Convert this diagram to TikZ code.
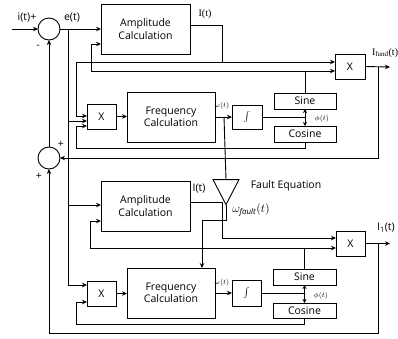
\documentclass[tikz,border=0pt]{standalone}
\usepackage{fontspec}
\setmainfont{Open Sans}
\newfontfamily\serifA{Liberation Serif}
\usetikzlibrary{arrows.meta,shapes.geometric}
\begin{document}
\begin{tikzpicture}[x=1pt,y=-1pt,
  every node/.style={inner sep=0pt,outer sep=0pt},
  blk/.style={draw,line width=0.9pt,rectangle,font=\fontsize{10.5}{12.5}\selectfont,align=center},
  sumc/.style={draw,line width=0.9pt,circle,minimum size=22pt},
  wire/.style={line width=0.9pt},
  arr/.style={line width=0.9pt,-{Stealth[length=5pt,width=4.5pt]}},
  darr/.style={line width=0.9pt,{Stealth[length=4pt,width=4pt]}-{Stealth[length=4pt,width=4pt]}},
  lbl/.style={font=\fontsize{10.5}{12}\selectfont},
  tiny/.style={font=\fontsize{7}{8}\selectfont}
]
\useasboundingbox (0,0) rectangle (398,338);
\fill[white] (0,0) rectangle (398,338);

% ---------- top section ----------
\node[sumc] (sumA) at (49,29) {};
\node[sumc] (sumB) at (49,158) {};
\node[blk,minimum width=89pt,minimum height=50pt] (ampA) at (145.5,29) {Amplitude\\Calculation};
\node[blk,minimum width=29pt,minimum height=25pt] (xA) at (101.5,116.5) {X};
\node[blk,minimum width=88pt,minimum height=50pt] (freqA) at (171,117) {Frequency\\Calculation};
\node[blk,minimum width=30pt,minimum height=24pt] (intA) at (247,117) {$\int$};
\node[blk,minimum width=62pt,minimum height=16pt] (sinA) at (305,101) {Sine};
\node[blk,minimum width=62pt,minimum height=16pt] (cosA) at (305,134) {Cosine};
\node[blk,minimum width=30pt,minimum height=25pt] (mulA) at (350,66.5) {X};

\node[draw,line width=0.9pt,isosceles triangle,shape border rotate=-90,
      isosceles triangle stretches,minimum width=26pt,minimum height=25pt] (tri) at (226,187.5) {};

% ---------- bottom section ----------
\node[blk,minimum width=89pt,minimum height=50pt] (ampB) at (145.5,206) {Amplitude\\Calculation};
\node[blk,minimum width=29pt,minimum height=25pt] (xB) at (101.5,293.5) {X};
\node[blk,minimum width=88pt,minimum height=50pt] (freqB) at (171,293) {Frequency\\Calculation};
\node[blk,minimum width=29pt,minimum height=26pt] (intB) at (246.5,293) {$\int$};
\node[blk,minimum width=63pt,minimum height=16pt] (sinB) at (304.5,277) {Sine};
\node[blk,minimum width=63pt,minimum height=15pt] (cosB) at (304.5,310.5) {Cosine};
\node[blk,minimum width=29pt,minimum height=25pt] (mulB) at (350.5,243.5) {X};

% coordinates
\coordinate (in) at (12,29);
\coordinate (eA) at (68,29);
\coordinate (eB) at (68,285);
\coordinate (fA) at (91,71);
\coordinate (gA) at (76,62);
\coordinate (iA) at (222,25);
\coordinate (cA) at (76,148);
\coordinate (wA) at (224,117);
\coordinate (oA) at (390,67);
\coordinate (rA) at (378,67);
\coordinate (fB) at (90,248);
\coordinate (iB) at (222,202);
\coordinate (cB) at (76,324);
\coordinate (kB) at (202,220);
\coordinate (oB) at (390,243.5);
\coordinate (rB) at (378,243.5);
\coordinate (bot) at (49,333);

% ---------- top wiring ----------
\draw[arr] (in) -- (sumA.west);
\draw[arr] (sumA.east) -- (ampA.west |- sumA.east);
\draw[wire] (eA) -- (eB);
\draw[arr] (eB) -- (xB.west |- eB);
\draw[arr] (eA |- 0,121) -- (xA.west |- 0,121);
\draw[arr] (eA |- 0,205) -- (ampB.west |- 0,205);
\draw[arr] (fA) |- (ampA.west |- 0,44);
\draw[wire] (iA -| ampA.east) -- (iA) -- (iA |- gA);
\draw[arr] (gA) -- (mulA.west |- gA);
\draw[arr] (gA) |- (xA.west |- 0,116);
\draw[wire] (sinA.north) -- (sinA.north |- fA);
\draw[arr] (fA) -- (mulA.west |- fA);
\draw[arr] (xA.east) -- (freqA.west |- xA.east);
\draw[arr] (freqA.east |- intA.west) -- (intA.west);
\draw[wire] (intA.east) -- (sinA.south |- intA.east);
\draw[darr] (sinA.south) -- (cosA.north);
\draw[wire] (cosA.south) -- (cosA.south |- cA) -- (cA);
\draw[arr] (cA) |- (xA.west |- 0,126);
\draw[wire] (wA) -- (tri.north);
\draw[arr] (mulA.east) -- (oA);
\draw[arr] (rA) |- (sumB.east);
\draw[arr] (sumB.north) -- (sumA.south);

% ---------- bottom wiring ----------
\draw[wire] (tri.apex) -- (tri.apex |- kB) -- (kB);
\draw[arr] (kB) -- (kB |- freqB.north);
\draw[wire] (iB -| ampB.east) -- (iB);
\draw[arr] (iB) |- (mulB.west |- 0,238);
\draw[wire] (sinB.north) -- (sinB.north |- fB);
\draw[arr] (fB) -- (mulB.west |- fB);
\draw[arr] (fB) |- (ampB.west |- 0,221);
\draw[arr] (xB.east) -- (freqB.west |- xB.east);
\draw[arr] (freqB.east |- intB.west) -- (intB.west);
\draw[wire] (intB.east) -- (sinB.south |- intB.east);
\draw[darr] (sinB.south) -- (cosB.north);
\draw[wire] (cosB.south) -- (cosB.south |- cB) -- (cB);
\draw[arr] (cB) |- (xB.west |- 0,302);
\draw[arr] (mulB.east) -- (oB);
\draw[wire] (rB) |- (bot);
\draw[arr] (bot) -- (sumB.south);

% ---------- labels ----------
\node[lbl] at (27,17) {i(t)+};
\node[lbl] at (38,47) {-};
\node[lbl] at (72,18) {e(t)};
\node[font=\serifA\fontsize{10}{12}\selectfont] at (205,14) {I(t)};
\node[font=\serifA\fontsize{10}{12}\selectfont,anchor=west] at (372,53) {I\textsubscript{fund}(t)};
\node[tiny] at (222,106) {$\omega(t)$};
\node[tiny] at (322,119) {$\phi(t)$};
\node[lbl] at (61,144) {+};
\node[lbl] at (39,176) {+};
\node[lbl] at (286,186) {Fault Equation};
\node[font=\fontsize{12}{14}\selectfont] at (251,210) {$\omega_{\mathit{fault}}(t)$};
\node[lbl] at (199,189) {I(t)};
\node[lbl] at (386,228) {I\textsubscript{1}(t)};
\node[tiny] at (222,283) {$\omega(t)$};
\node[tiny] at (321,296) {$\phi(t)$};
\end{tikzpicture}
\end{document}
